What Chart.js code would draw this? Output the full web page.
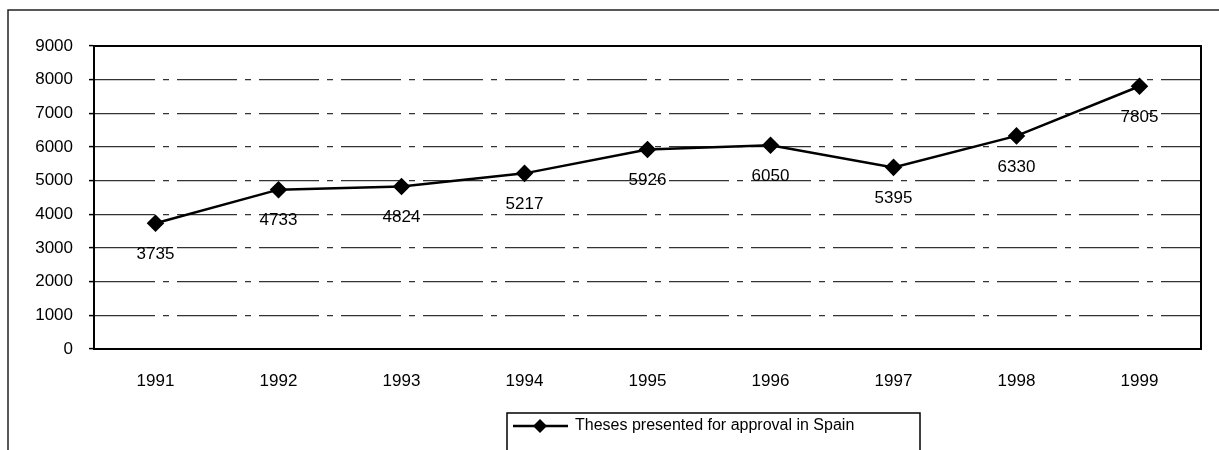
<!DOCTYPE html>
<html>
<head>
<meta charset="utf-8">
<script src="https://cdn.jsdelivr.net/npm/chart.js@4"></script>
<style>
  html, body { margin: 0; padding: 0; background: #fff; }
  #wrap { width: 1219px; height: 450px; }
</style>
</head>
<body>
<div id="wrap"><canvas id="chart" width="1219" height="450"></canvas></div>
<script>
const years = ['1991', '1992', '1993', '1994', '1995', '1996', '1997', '1998', '1999'];
const theses = [3735, 4733, 4824, 5217, 5926, 6050, 5395, 6330, 7805];
const seriesName = 'Theses presented for approval in Spain';
const yMax = 9000;
const yStep = 1000;

const FONT = 'Liberation Sans, Arial, sans-serif';

// frame, plot border, value labels and legend box
const decor = {
    id: 'decor',
    beforeDraw(c) {
        const ctx = c.ctx;
        ctx.save();
        ctx.fillStyle = '#fff';
        ctx.fillRect(0, 0, c.width, c.height);
        ctx.strokeStyle = '#222';
        ctx.lineWidth = 1.5;
        ctx.beginPath();
        ctx.moveTo(8, 450);
        ctx.lineTo(8, 10);
        ctx.lineTo(1219, 10);
        ctx.stroke();
        ctx.restore();
    },
    afterDatasetsDraw(c) {
        const ctx = c.ctx;
        const a = c.chartArea;
        ctx.save();
        ctx.setLineDash([]);
        ctx.strokeStyle = '#000';
        ctx.lineWidth = 2;
        ctx.strokeRect(a.left, a.top, a.right - a.left, a.bottom - a.top);

        ctx.fillStyle = '#000';
        ctx.font = '17px ' + FONT;
        ctx.textAlign = 'center';
        ctx.textBaseline = 'middle';
        const meta = c.getDatasetMeta(0);
        meta.data.forEach((p, i) => {
            ctx.fillText(String(theses[i]), p.x, p.y + 31);
        });

        // legend
        ctx.lineWidth = 1.5;
        ctx.strokeRect(507, 413, 413, 45);
        ctx.lineWidth = 2.5;
        ctx.beginPath();
        ctx.moveTo(513, 426);
        ctx.lineTo(568, 426);
        ctx.stroke();
        ctx.beginPath();
        ctx.moveTo(533, 426);
        ctx.lineTo(540, 419);
        ctx.lineTo(547, 426);
        ctx.lineTo(540, 433);
        ctx.closePath();
        ctx.fill();
        ctx.textAlign = 'left';
        ctx.font = '16px ' + FONT;
        ctx.fillText(seriesName, 575, 426);
        ctx.restore();
    }
};

const ctx = document.getElementById('chart');
new Chart(ctx, {
    type: 'line',
    data: {
        labels: years,
        datasets: [{
            label: seriesName,
            data: theses,
            borderColor: '#000',
            backgroundColor: '#000',
            borderWidth: 2.5,
            tension: 0,
            pointStyle: 'rectRot',
            pointRadius: 7,
            pointBackgroundColor: '#000',
            pointBorderColor: '#000'
        }]
    },
    options: {
        responsive: false,
        animation: false,
        events: [],
        layout: { padding: { top: 46, right: 18, left: 0, bottom: 0 } },
        plugins: {
            legend: { display: false },
            tooltip: { enabled: false }
        },
        scales: {
            x: {
                offset: true,
                afterFit: s => { s.height = 101; },
                grid: { display: false, offset: true },
                border: { color: '#000', width: 2 },
                ticks: { color: '#000', padding: 14, font: { size: 17, family: FONT } }
            },
            y: {
                min: 0,
                max: yMax,
                afterFit: s => { s.width = 94; },
                border: { color: '#000', width: 2, dash: [60, 8, 6, 8] },
                grid: {
                    color: '#333',
                    lineWidth: 1.2,
                    tickLength: 5,
                    tickColor: '#000',
                    tickWidth: 1.5,
                    tickBorderDash: []
                },
                ticks: {
                    stepSize: yStep,
                    color: '#000',
                    padding: 16,
                    font: { size: 17, family: FONT },
                    callback: v => String(v)
                }
            }
        }
    },
    plugins: [decor]
});
</script>
</body>
</html>
